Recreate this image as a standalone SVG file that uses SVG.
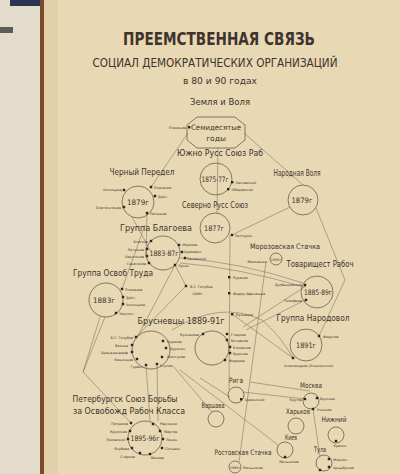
<svg xmlns="http://www.w3.org/2000/svg" width="400" height="474" viewBox="0 0 400 474">
<defs>
<style>
.t{font-family:"DejaVu Sans","Liberation Sans",sans-serif;fill:#3d342d}
.h{font-weight:bold;font-size:17px}
.n{font-size:8.5px}
.y{font-size:7.5px}
.s{font-size:3.4px}
.c{fill:none;stroke:#6a5c50;stroke-width:0.8}
.l{fill:none;stroke:#857565;stroke-width:0.6}
.d{fill:#2d2620}
</style>
</defs>
<rect width="400" height="474" fill="#e9d8b4"/>
<rect width="42" height="474" fill="#e3dccb"/>
<rect x="10" y="0" width="36" height="6" fill="#2c3350"/>
<rect x="0" y="27" width="13" height="6" fill="#5d5a5a"/>
<rect x="40" y="0" width="4" height="474" fill="#7a4a2a"/>
<rect x="44" y="0" width="14" height="474" fill="#e2d0aa"/>

<g id="title" class="t">
<text class="h" x="219" y="45" text-anchor="middle" textLength="192" lengthAdjust="spacingAndGlyphs">ПРЕЕМСТВЕННАЯ СВЯЗЬ</text>
<text x="215" y="67" font-size="11.5" text-anchor="middle" textLength="245" lengthAdjust="spacingAndGlyphs">СОЦИАЛ ДЕМОКРАТИЧЕСКИХ ОРГАНИЗАЦИЙ</text>
<text x="220" y="84" font-size="9" text-anchor="middle" textLength="74" lengthAdjust="spacingAndGlyphs">в 80 и 90 годах</text>
</g>

<g id="connectors">
<line class="l" x1="188" y1="133" x2="151" y2="187"/>
<line class="l" x1="244" y1="133" x2="303" y2="185"/>
<line class="l" x1="218" y1="148" x2="217" y2="213"/>
<line class="l" x1="232" y1="235" x2="290" y2="207"/>
<line class="l" x1="230" y1="235" x2="229" y2="390"/>
<polyline class="l" points="316,208 345,280 319,336"/>
<line class="l" x1="147" y1="213" x2="146" y2="256"/>
<line class="l" x1="132" y1="217" x2="150" y2="250"/>
<line class="l" x1="145" y1="225" x2="122" y2="289"/>
<line class="l" x1="175" y1="265" x2="186" y2="286"/>
<line class="l" x1="186" y1="286" x2="136" y2="337"/>
<line class="l" x1="175" y1="265" x2="138" y2="336"/>
<path class="l" d="M180,258 Q240,262 303,283"/>
<path class="l" d="M180,263 Q240,268 304,287"/>
<line class="l" x1="243" y1="327" x2="306" y2="286"/>
<line class="l" x1="246" y1="330" x2="307" y2="299"/>
<path class="l" d="M172,330 Q220,300 262,320 Q280,335 293,358"/>
<line class="l" x1="232" y1="314" x2="293" y2="358"/>
<polyline class="l" points="100,317 83,372 131,423"/>
<line class="l" x1="105" y1="317" x2="83" y2="372"/>
<line class="l" x1="146" y1="365" x2="150" y2="421"/>
<line class="l" x1="157" y1="364" x2="158" y2="421"/>
<line class="l" x1="173" y1="366" x2="212" y2="412"/>
<line class="l" x1="200" y1="378" x2="230" y2="397"/>
<line class="l" x1="180" y1="370" x2="278" y2="445"/>
<line class="l" x1="243" y1="392" x2="305" y2="399"/>
<line class="l" x1="250" y1="382" x2="310" y2="391"/>
<line class="l" x1="266" y1="262" x2="239" y2="462"/>
<line class="l" x1="313" y1="409" x2="320" y2="457"/>
</g>

<g id="n-zemlya" class="t"><text class="n" x="220" y="105" text-anchor="middle" textLength="60" lengthAdjust="spacingAndGlyphs">Земля и Воля</text></g>

<g id="n-70" class="t">
<polygon class="c" points="197,117 235,117 245,125 245,140 235,148 197,148 187,140 187,125"/>
<text class="y" x="216" y="130" text-anchor="middle" textLength="50" lengthAdjust="spacingAndGlyphs">Семидесятые</text>
<text class="y" x="216" y="141" text-anchor="middle">годы</text>
<rect class="d" x="188" y="126" width="2.4" height="2.4"/>
<text class="s" x="186" y="128.5" text-anchor="end">Плеханов</text>
</g>

<g id="n-yuzhno" class="t">
<text class="n" x="220" y="156" text-anchor="middle" textLength="86" lengthAdjust="spacingAndGlyphs">Южно Русс Союз Раб</text>
<circle class="c" cx="216" cy="179" r="16"/>
<text class="y" x="215" y="182" text-anchor="middle" textLength="27" lengthAdjust="spacingAndGlyphs">1875-77г</text>
<rect class="d" x="231" y="181" width="2.4" height="2.4"/><text class="s" x="235.5" y="183.5">Заславский</text>
<rect class="d" x="227" y="188" width="2.4" height="2.4"/><text class="s" x="231.5" y="190.5">Ободовский</text>
</g>

<g id="n-severno" class="t">
<text class="n" x="215" y="208" text-anchor="middle" textLength="66" lengthAdjust="spacingAndGlyphs">Северно Русс Союз</text>
<circle class="c" cx="215" cy="228" r="15"/>
<text class="y" x="214" y="231" text-anchor="middle" textLength="20" lengthAdjust="spacingAndGlyphs">1877г</text>
<rect class="d" x="230.8" y="233.8" width="2.4" height="2.4"/><text class="s" x="235" y="237">Халтурин</text>
</g>

<g id="n-narvolya" class="t">
<text class="n" x="297" y="176" text-anchor="middle" textLength="47" lengthAdjust="spacingAndGlyphs">Народная Воля</text>
<circle class="c" cx="303" cy="200" r="15"/>
<text class="y" x="302" y="203" text-anchor="middle" textLength="21" lengthAdjust="spacingAndGlyphs">1879г</text>
</g>

<g id="n-chperedel" class="t">
<text class="n" x="142" y="175" text-anchor="middle" textLength="65" lengthAdjust="spacingAndGlyphs">Черный Передел</text>
<circle class="c" cx="138" cy="202" r="16"/>
<text class="y" x="138" y="205" text-anchor="middle" textLength="22" lengthAdjust="spacingAndGlyphs">1879г</text>
<rect class="d" x="122.8" y="188.8" width="2.4" height="2.4"/><text class="s" x="122" y="191" text-anchor="end">Аксельрод</text>
<rect class="d" x="149.8" y="185.8" width="2.4" height="2.4"/><text class="s" x="154" y="188.5">Плеханов</text>
<rect class="d" x="153.8" y="194.8" width="2.4" height="2.4"/><text class="s" x="158" y="197.5">Дейч</text>
<rect class="d" x="122.8" y="205.8" width="2.4" height="2.4"/><text class="s" x="121" y="208.5" text-anchor="end">Благосклонов</text>
<rect class="d" x="145.8" y="211.8" width="2.4" height="2.4"/><text class="s" x="150" y="215">Латышев</text>
</g>

<g id="n-blagoev" class="t">
<text class="n" x="156" y="231" text-anchor="middle" textLength="72" lengthAdjust="spacingAndGlyphs">Группа Благоева</text>
<circle class="c" cx="163" cy="253" r="17"/>
<text class="y" x="164" y="256" text-anchor="middle" textLength="29" lengthAdjust="spacingAndGlyphs">1883-87г</text>
<rect class="d" x="149.8" y="239.8" width="2.4" height="2.4"/><text class="s" x="148" y="242.5" text-anchor="end">Благоев</text>
<rect class="d" x="145.8" y="247.8" width="2.4" height="2.4"/><text class="s" x="144" y="250.5" text-anchor="end">Латышев</text>
<rect class="d" x="145.8" y="254.8" width="2.4" height="2.4"/><text class="s" x="144" y="257.5" text-anchor="end">Харитонов</text>
<rect class="d" x="147.8" y="261.8" width="2.4" height="2.4"/><text class="s" x="146" y="264.5" text-anchor="end">Герасимов</text>
<rect class="d" x="177.8" y="243.8" width="2.4" height="2.4"/><text class="s" x="182" y="246">Абрамов</text>
<rect class="d" x="180.8" y="250.8" width="2.4" height="2.4"/><text class="s" x="184" y="253">Адамович</text>
<rect class="d" x="183.8" y="256.8" width="2.4" height="2.4"/><text class="s" x="187" y="259.5">Поповский</text>
<rect class="d" x="173.8" y="263.8" width="2.4" height="2.4"/><text class="s" x="178" y="267">Лукин</text>
</g>

<g id="n-golubev" class="t">
<rect class="d" x="184.8" y="284.8" width="2.4" height="2.4"/>
<text class="s" x="190" y="287.5">В.С. Голубев</text>
<text class="s" x="192" y="295">1886г.</text>
</g>

<g id="n-osvtruda" class="t">
<text class="n" x="113" y="276" text-anchor="middle" textLength="80" lengthAdjust="spacingAndGlyphs">Группа Освоб Труда</text>
<circle class="c" cx="106" cy="300" r="17"/>
<text class="y" x="104" y="303" text-anchor="middle" textLength="22" lengthAdjust="spacingAndGlyphs">1883г</text>
<rect class="d" x="120.8" y="287.8" width="2.4" height="2.4"/><text class="s" x="125" y="290.5">Плеханов</text>
<rect class="d" x="121.8" y="295.8" width="2.4" height="2.4"/><text class="s" x="126" y="298.5">Дейч</text>
<rect class="d" x="121.8" y="302.8" width="2.4" height="2.4"/><text class="s" x="126" y="305.5">Аксельрод</text>
<rect class="d" x="114.8" y="311.8" width="2.4" height="2.4"/><text class="s" x="119" y="314.5">Засулич</text>
</g>

<g id="n-morozov" class="t">
<text class="y" x="285" y="249" text-anchor="middle" textLength="70" lengthAdjust="spacingAndGlyphs">Морозовская Стачка</text>
<circle class="c" cx="276" cy="259" r="6"/>
<text class="s" x="276" y="260.5" text-anchor="middle">1885г</text>
<text class="s" x="267" y="263" text-anchor="end">Моисеенко</text>
</g>

<g id="n-tovar" class="t">
<text class="n" x="320" y="267" text-anchor="middle" textLength="67" lengthAdjust="spacingAndGlyphs">Товарищест Рабоч</text>
<circle class="c" cx="317" cy="292" r="16"/>
<text class="y" x="318" y="295" text-anchor="middle" textLength="28" lengthAdjust="spacingAndGlyphs">1885-89г</text>
<rect class="d" x="303.8" y="283.8" width="2.4" height="2.4"/><text class="s" x="302" y="286" text-anchor="end">Дробышевский</text>
<rect class="d" x="304.8" y="298.8" width="2.4" height="2.4"/><text class="s" x="302" y="301.5" text-anchor="end">Тимофеев</text>
</g>

<g id="n-narodovol" class="t">
<text class="n" x="313" y="321" text-anchor="middle" textLength="73" lengthAdjust="spacingAndGlyphs">Группа Народовол</text>
<circle class="c" cx="306" cy="345" r="16"/>
<text class="y" x="306" y="348" text-anchor="middle" textLength="20" lengthAdjust="spacingAndGlyphs">1891г</text>
<rect class="d" x="317.8" y="334.8" width="2.4" height="2.4"/><text class="s" x="323" y="338">Федулов</text>
<rect class="d" x="291.8" y="356.8" width="2.4" height="2.4"/><text class="s" x="284" y="367">Александров (Ольминский)</text>
</g>

<g id="n-brusnev" class="t">
<text class="n" x="181" y="324" text-anchor="middle" textLength="87" lengthAdjust="spacingAndGlyphs">Брусневцы 1889-91г</text>
<circle class="c" cx="151" cy="350" r="19"/>
<circle class="c" cx="212" cy="348" r="17"/>
<rect class="d" x="134.8" y="335.8" width="2.4" height="2.4"/><text class="s" x="133" y="338.5" text-anchor="end">В.С. Голубев</text>
<rect class="d" x="130.8" y="343.8" width="2.4" height="2.4"/><text class="s" x="128" y="346.5" text-anchor="end">Вакина</text>
<rect class="d" x="130.8" y="350.8" width="2.4" height="2.4"/><text class="s" x="128" y="353.5" text-anchor="end">Брандзендорф</text>
<rect class="d" x="135.8" y="357.8" width="2.4" height="2.4"/><text class="s" x="133" y="360.5" text-anchor="end">Кашинцев</text>
<rect class="d" x="144.8" y="363.8" width="2.4" height="2.4"/><text class="s" x="143" y="368" text-anchor="end">Гурвич</text>
<rect class="d" x="155.8" y="362.8" width="2.4" height="2.4"/><text class="s" x="160" y="367">Егупов</text>
<rect class="d" x="161.8" y="339.8" width="2.4" height="2.4"/><text class="s" x="167" y="342.5">Рудаков</text>
<rect class="d" x="164.8" y="346.8" width="2.4" height="2.4"/><text class="s" x="170" y="349.5">Буренин</text>
<rect class="d" x="160.8" y="355.8" width="2.4" height="2.4"/><text class="s" x="167" y="358">Шелгунов</text>
<rect class="d" x="201.8" y="332.8" width="2.4" height="2.4"/><text class="s" x="199" y="335.5" text-anchor="end">Кузнецова</text>
<rect class="d" x="225.8" y="332.8" width="2.4" height="2.4"/><text class="s" x="231" y="335.5">Гладков</text>
<rect class="d" x="225.8" y="338.8" width="2.4" height="2.4"/><text class="s" x="231" y="341.5">Богданов</text>
<rect class="d" x="228.8" y="345.8" width="2.4" height="2.4"/><text class="s" x="233" y="348.5">Климанов</text>
<rect class="d" x="228.8" y="351.8" width="2.4" height="2.4"/><text class="s" x="233" y="354.5">Бруснев</text>
<rect class="d" x="223.8" y="358.8" width="2.4" height="2.4"/><text class="s" x="229" y="361.5">Федоров</text>
<rect class="d" x="228" y="276" width="2.4" height="2.4"/><text class="s" x="233" y="278.5">Рудаков</text>
<rect class="d" x="228" y="292" width="2.4" height="2.4"/><text class="s" x="233" y="294.5">Федор Афанасьев</text>
<rect class="d" x="231" y="313" width="2.4" height="2.4"/><text class="s" x="236" y="315.5">Кузнецов</text>
</g>

<g id="n-peterburg" class="t">
<text class="n" x="125" y="402" text-anchor="middle" textLength="105" lengthAdjust="spacingAndGlyphs">Петербургск Союз Борьбы</text>
<text class="n" x="129" y="414" text-anchor="middle" textLength="112" lengthAdjust="spacingAndGlyphs">за Освобожд Рабоч Класса</text>
<circle class="c" cx="145" cy="438" r="17"/>
<text class="y" x="145" y="441" text-anchor="middle" textLength="29" lengthAdjust="spacingAndGlyphs">1895-96г</text>
<rect class="d" x="129.8" y="421.8" width="2.4" height="2.4"/><text class="s" x="128" y="424.5" text-anchor="end">Потресов</text>
<rect class="d" x="128.8" y="429.8" width="2.4" height="2.4"/><text class="s" x="127" y="432.5" text-anchor="end">Крупская</text>
<rect class="d" x="126.8" y="437.8" width="2.4" height="2.4"/><text class="s" x="125" y="440.5" text-anchor="end">Ляховский</text>
<rect class="d" x="130.8" y="446.8" width="2.4" height="2.4"/><text class="s" x="129" y="449.5" text-anchor="end">Якубова</text>
<rect class="d" x="138.8" y="451.8" width="2.4" height="2.4"/><text class="s" x="135" y="457.5" text-anchor="end">Старков</text>
<rect class="d" x="151.8" y="422.8" width="2.4" height="2.4"/><text class="s" x="160" y="425">Радченко</text>
<rect class="d" x="158.8" y="429.8" width="2.4" height="2.4"/><text class="s" x="164" y="432.5">Мартов</text>
<rect class="d" x="161.8" y="437.8" width="2.4" height="2.4"/><text class="s" x="166" y="440.5">Ленин</text>
<rect class="d" x="160.8" y="446.8" width="2.4" height="2.4"/><text class="s" x="165" y="449.5">Сильвин</text>
<rect class="d" x="148.8" y="452.8" width="2.4" height="2.4"/><text class="s" x="151" y="459">Ванеев</text>
</g>

<g id="n-riga" class="t">
<text class="y" x="236" y="383" text-anchor="middle" textLength="14" lengthAdjust="spacingAndGlyphs">Рига</text>
<circle class="c" cx="236" cy="395" r="8"/>
<rect class="d" x="240" y="398" width="2.4" height="2.4"/><text class="s" x="245" y="401">Цивинский</text>
</g>
<g id="n-varshava" class="t">
<text class="y" x="213" y="408" text-anchor="middle" textLength="23" lengthAdjust="spacingAndGlyphs">Варшава</text>
<circle class="c" cx="216" cy="419" r="8"/>
</g>
<g id="n-moskva" class="t">
<text class="y" x="311" y="388" text-anchor="middle" textLength="22" lengthAdjust="spacingAndGlyphs">Москва</text>
<circle class="c" cx="311" cy="401" r="8"/>
<rect class="d" x="303.8" y="397.8" width="2.4" height="2.4"/><text class="s" x="302" y="400.5" text-anchor="end">Кругов</text>
<rect class="d" x="315.8" y="396.8" width="2.4" height="2.4"/><text class="s" x="320" y="399.5">Бруснев</text>
<rect class="d" x="311.8" y="407.8" width="2.4" height="2.4"/><text class="s" x="317" y="411">Ульянов</text>
</g>
<g id="n-harkov" class="t">
<text class="y" x="298" y="414" text-anchor="middle" textLength="24" lengthAdjust="spacingAndGlyphs">Харьков</text>
<circle class="c" cx="296" cy="426" r="8"/>
</g>
<g id="n-nizhny" class="t">
<text class="y" x="334" y="422" text-anchor="middle" textLength="25" lengthAdjust="spacingAndGlyphs">Нижний</text>
<circle class="c" cx="336" cy="435" r="8"/>
<rect class="d" x="334.8" y="439.8" width="2.4" height="2.4"/><text class="s" x="340" y="447" text-anchor="middle">Красин</text>
</g>
<g id="n-kiev" class="t">
<text class="y" x="291" y="440" text-anchor="middle" textLength="12" lengthAdjust="spacingAndGlyphs">Киев</text>
<circle class="c" cx="285" cy="450" r="8"/>
<rect class="d" x="283.8" y="455.8" width="2.4" height="2.4"/><text class="s" x="289" y="463" text-anchor="middle">Мельников</text>
</g>
<g id="n-rostov" class="t">
<text class="y" x="243" y="455" text-anchor="middle" textLength="57" lengthAdjust="spacingAndGlyphs">Ростовская Стачка</text>
<circle class="c" cx="235" cy="467" r="6"/>
<text class="s" x="235" y="468.5" text-anchor="middle">1894г</text>
<text class="s" x="243" y="468.5">Мельников</text>
</g>
<g id="n-tula" class="t">
<text class="y" x="320" y="452" text-anchor="middle" textLength="12" lengthAdjust="spacingAndGlyphs">Тула</text>
<circle class="c" cx="324" cy="463" r="8"/>
<rect class="d" x="327.8" y="457.8" width="2.4" height="2.4"/><text class="s" x="333" y="460.5">Жонсон</text>
<rect class="d" x="327.8" y="465.8" width="2.4" height="2.4"/><text class="s" x="333" y="468.5">Арцыбушев</text>
<rect class="d" x="318.8" y="468.8" width="2.4" height="2.4"/>
</g>
</svg>
